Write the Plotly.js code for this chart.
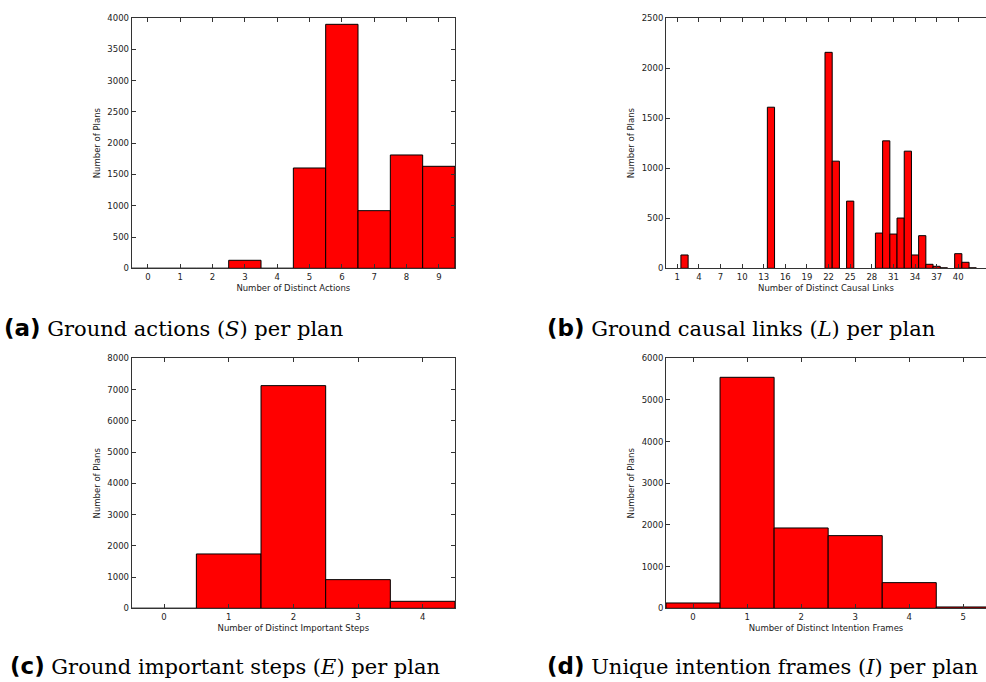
<!DOCTYPE html>
<html>
<head>
<meta charset="utf-8">
<script src="https://cdn.plot.ly/plotly-3.0.1.min.js"></script>
<style>html,body{margin:0;padding:0;background:#fff;}#chart{width:986px;height:682px;}</style>
</head>
<body>
<div id="chart"></div>
<script>
// (a) Ground actions per plan
const actionsX = [0, 1, 2, 3, 4, 5, 6, 7, 8, 9];
const actionsY = [0, 0, 0, 128, 0, 1603, 3899, 921, 1811, 1630];
// (b) Ground causal links per plan
const linksX = [2, 14, 22, 23, 25, 29, 30, 31, 32, 33, 34, 35, 36, 37, 38, 40, 41, 42];
const linksY = [133, 1609, 2157, 1070, 671, 352, 1273, 342, 502, 1170, 133, 326, 40, 20, 5, 146, 60, 5];
const linksTicks = [1, 4, 7, 10, 13, 16, 19, 22, 25, 28, 31, 34, 37, 40];
// (c) Ground important steps per plan
const stepsX = [0, 1, 2, 3, 4];
const stepsY = [0, 1739, 7125, 917, 224];
// (d) Unique intention frames per plan
const framesX = [0, 1, 2, 3, 4, 5];
const framesY = [128, 5544, 1928, 1744, 616, 32];

const xTitles = ["Number of Distinct Actions", "Number of Distinct Causal Links",
                 "Number of Distinct Important Steps", "Number of Distinct Intention Frames"];
const yTitle = "Number of Plans";
const captionLetters = ["(a)", "(b)", "(c)", "(d)"];
const captionTexts = ["Ground actions (<i>S</i>) per plan", "Ground causal links (<i>L</i>) per plan",
                      "Ground important steps (<i>E</i>) per plan", "Unique intention frames (<i>I</i>) per plan"];

const W = 986, H = 682;
const px = v => v / W;
const py = v => 1 - v / H;

const barStyle = {color: '#ff0000', line: {color: '#000000', width: 1}};
function mk(x, y, xa, ya) {
  return {type: 'bar', x: x, y: y, width: 1, marker: barStyle, xaxis: xa, yaxis: ya,
          showlegend: false, hoverinfo: 'x+y'};
}
const data = [
  mk(actionsX, actionsY, 'x', 'y'),
  mk(linksX, linksY, 'x2', 'y2'),
  mk(stepsX, stepsY, 'x3', 'y3'),
  mk(framesX, framesY, 'x4', 'y4')
];

const tickFont = {family: 'DejaVu Sans, sans-serif', size: 8.5, color: '#222'};
const titleFont = {family: 'DejaVu Sans, sans-serif', size: 8.5, color: '#222'};
function xax(domain, range, anchor, title, tickvals) {
  return {domain: domain, range: range, anchor: anchor, tickvals: tickvals,
          ticks: 'inside', ticklen: 4, tickcolor: '#333', tickwidth: 1,
          showline: true, linecolor: '#333', linewidth: 1, mirror: 'allticks',
          showgrid: false, zeroline: false, tickfont: tickFont, fixedrange: true,
          title: {text: title, font: titleFont, standoff: 4}};
}
function yax(domain, range, anchor, dtick, mirror) {
  return {domain: domain, range: range, anchor: anchor, dtick: dtick, tick0: 0,
          ticks: 'inside', ticklen: 4, tickcolor: '#333', tickwidth: 1,
          showline: true, linecolor: '#333', linewidth: 1, mirror: mirror,
          showgrid: false, zeroline: false, tickfont: tickFont, fixedrange: true,
          title: {text: yTitle, font: titleFont, standoff: 5}};
}

const rowTop = [py(268.3), py(18)];
const rowBot = [py(608.3), py(358.3)];
const colL = [px(131.7), px(455)];
const colR = [px(666), 1];

const layout = {
  width: W, height: H,
  margin: {l: 0, r: 0, t: 0, b: 0},
  paper_bgcolor: '#fff', plot_bgcolor: '#fff',
  bargap: 0,
  xaxis: xax(colL, [-0.5, 9.5], 'y', xTitles[0], actionsX),
  yaxis: yax(rowTop, [0, 4000], 'x', 500, 'allticks'),
  xaxis2: xax(colR, [-0.57, 43.85], 'y2', xTitles[1], linksTicks),
  yaxis2: yax(rowTop, [0, 2500], 'x2', 500, false),
  xaxis3: xax(colL, [-0.5, 4.5], 'y3', xTitles[2], stepsX),
  yaxis3: yax(rowBot, [0, 8000], 'x3', 1000, 'allticks'),
  xaxis4: xax(colR, [-0.5, 5.42], 'y4', xTitles[3], framesX),
  yaxis4: yax(rowBot, [0, 6000], 'x4', 1000, false),
  annotations: []
};

const capPos = [[2, 328], [545, 328], [8, 666], [545, 666]];
for (let i = 0; i < 4; i++) {
  layout.annotations.push({
    xref: 'paper', yref: 'paper', x: px(capPos[i][0]), y: py(capPos[i][1]),
    xanchor: 'left', yanchor: 'middle', showarrow: false,
    text: '<span style="font-family:DejaVu Sans;font-weight:bold;font-size:23px">' + captionLetters[i] + '</span> ' + captionTexts[i],
    font: {family: 'DejaVu Serif, serif', size: 21, color: '#000'}
  });
}

Plotly.newPlot('chart', data, layout, {displayModeBar: false, staticPlot: true});
</script>
</body>
</html>
